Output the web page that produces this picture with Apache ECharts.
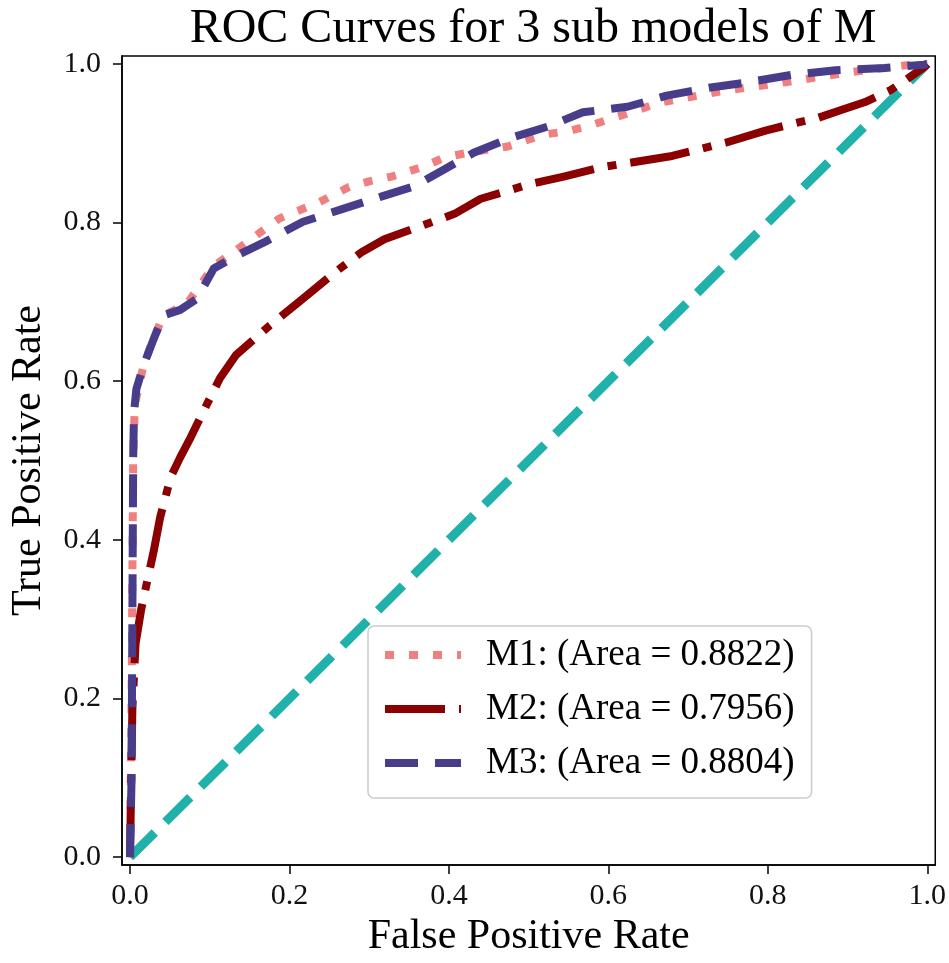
<!DOCTYPE html>
<html>
<head>
<meta charset="utf-8">
<title>ROC Curves</title>
<script src="https://cdn.jsdelivr.net/npm/echarts@6/dist/echarts.min.js"></script>
<style>
  html, body { margin: 0; padding: 0; background: #fff; }
  #chart { width: 949px; height: 963px; }
</style>
</head>
<body>
<div id="chart"></div>
<script>
// values
const m1Fpr = [0, 0.002, 0.004, 0.006, 0.017, 0.030, 0.042, 0.071, 0.105, 0.133, 0.187, 0.238, 0.275, 0.300, 0.328, 0.370, 0.394, 0.424, 0.474, 0.519, 0.548, 0.573, 0.619, 0.664, 0.738, 0.822, 0.907, 0.987, 1]
const m1Tpr = [0, 0.20, 0.50, 0.57, 0.62, 0.655, 0.683, 0.697, 0.745, 0.765, 0.805, 0.826, 0.845, 0.852, 0.858, 0.871, 0.882, 0.888, 0.896, 0.911, 0.915, 0.921, 0.936, 0.951, 0.965, 0.977, 0.990, 1.0, 1]

const m2Fpr = [0, 0.001, 0.003, 0.005, 0.007, 0.014, 0.021, 0.030, 0.038, 0.051, 0.063, 0.076, 0.096, 0.113, 0.133, 0.175, 0.217, 0.258, 0.291, 0.319, 0.366, 0.407, 0.440, 0.474, 0.499, 0.544, 0.593, 0.631, 0.680, 0.748, 0.797, 0.829, 0.863, 0.892, 0.922, 0.954, 0.979, 0.996, 1]
const m2Tpr = [0, 0.06, 0.187, 0.228, 0.269, 0.312, 0.345, 0.387, 0.429, 0.479, 0.504, 0.529, 0.570, 0.604, 0.633, 0.670, 0.704, 0.738, 0.763, 0.779, 0.796, 0.811, 0.830, 0.840, 0.848, 0.858, 0.870, 0.876, 0.884, 0.901, 0.916, 0.924, 0.932, 0.942, 0.952, 0.967, 0.984, 0.996, 1]

const m3Fpr = [0, 0.002, 0.003, 0.004, 0.005, 0.008, 0.017, 0.030, 0.042, 0.063, 0.084, 0.105, 0.133, 0.170, 0.217, 0.266, 0.316, 0.357, 0.394, 0.431, 0.478, 0.524, 0.568, 0.624, 0.673, 0.726, 0.776, 0.829, 0.885, 0.947, 0.996, 1]
const m3Tpr = [0, 0.10, 0.30, 0.50, 0.56, 0.59, 0.62, 0.654, 0.683, 0.690, 0.704, 0.742, 0.758, 0.776, 0.801, 0.817, 0.833, 0.846, 0.867, 0.888, 0.907, 0.921, 0.939, 0.946, 0.960, 0.970, 0.977, 0.986, 0.992, 0.995, 0.999, 1]

const chanceFpr = [0, 1]
const chanceTpr = [0, 1]

const modelNames = ['M1: (Area = 0.8822)', 'M2: (Area = 0.7956)', 'M3: (Area = 0.8804)']
const tickValues = [0, 0.2, 0.4, 0.6, 0.8, 1.0]

const serif = 'Liberation Serif'

function pairs(xs, ys){
    return xs.map((x, i) => [x, ys[i]])
}

function axis(name, nameGap, labelMargin){
    return {
        type: 'value',
        min: -0.01,
        max: 1.01,
        name: name,
        nameLocation: 'middle',
        nameGap: nameGap,
        nameTextStyle: { fontFamily: serif, fontSize: 42, color: '#000' },
        axisLine: { show: true, onZero: false, lineStyle: { color: '#000', width: 1.5 } },
        axisTick: { show: true, inside: false, length: 9, lineStyle: { color: '#000', width: 1.5 }, customValues: tickValues },
        axisLabel: {
            fontFamily: serif, fontSize: 30, color: '#111', margin: labelMargin,
            customValues: tickValues,
            formatter: v => v.toFixed(1)
        },
        splitLine: { show: false }
    }
}

const chart = echarts.init(document.getElementById('chart'))

const option = {
    animation: false,
    backgroundColor: '#fff',
    title: {
        text: 'ROC Curves for 3 sub models of M',
        left: 528,
        textAlign: 'center',
        top: 0,
        textStyle: { fontFamily: serif, fontSize: 48, fontWeight: 'normal', color: '#000' }
    },
    grid: {
        left: 118, right: 11, top: 56, bottom: 92,
        show: true, borderColor: '#000', borderWidth: 1.5, backgroundColor: '#fff'
    },
    xAxis: axis('False Positive Rate', 48, 16),
    yAxis: axis('True Positive Rate', 72, 21),
    legend: {
        data: modelNames,
        orient: 'vertical',
        left: 368,
        top: 626,
        padding: [9, 17, 15, 13],
        itemWidth: 76,
        itemHeight: 14,
        itemGap: 14,
        backgroundColor: 'rgba(255,255,255,0.8)',
        borderColor: '#cccccc',
        borderWidth: 1.5,
        borderRadius: 6,
        // hide the marker that line series put in the middle of the legend line
        itemStyle: { color: 'rgba(0,0,0,0)', borderWidth: 0, opacity: 0 },
        lineStyle: { width: 8 },
        textStyle: { fontFamily: serif, fontSize: 37, color: '#000', lineHeight: 40, padding: [0, 0, 0, 20] }
    },
    series: [
        {
            name: 'chance', type: 'line', symbol: 'none', z: 1,
            data: pairs(chanceFpr, chanceTpr),
            lineStyle: { color: '#20B2AA', width: 9, type: [35, 15], cap: 'butt' }
        },
        {
            name: modelNames[0], type: 'line', symbol: 'none', z: 2,
            data: pairs(m1Fpr, m1Tpr),
            itemStyle: { color: '#F08080' },
            lineStyle: { color: '#F08080', width: 8, type: [9, 15], cap: 'butt', join: 'round' }
        },
        {
            name: modelNames[1], type: 'line', symbol: 'none', z: 3,
            data: pairs(m2Fpr, m2Tpr),
            itemStyle: { color: '#8B0000' },
            lineStyle: { color: '#8B0000', width: 8, type: [60, 14, 9, 14], cap: 'butt', join: 'round' }
        },
        {
            name: modelNames[2], type: 'line', symbol: 'none', z: 4,
            data: pairs(m3Fpr, m3Tpr),
            itemStyle: { color: '#483D8B' },
            lineStyle: { color: '#483D8B', width: 8, type: [33, 17], cap: 'butt', join: 'round' }
        }
    ]
}

option && chart.setOption(option)
</script>
</body>
</html>
